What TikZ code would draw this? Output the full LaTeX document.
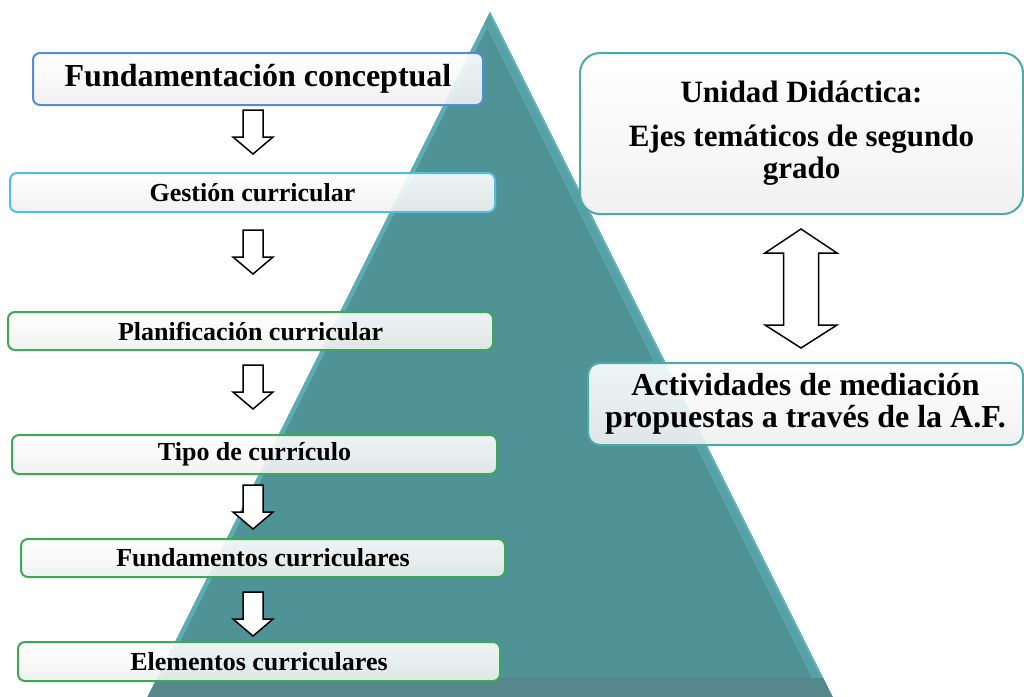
\documentclass[tikz,border=0pt]{standalone}
\usepackage{fontspec}
\setmainfont{Liberation Serif}
\usetikzlibrary{positioning,shapes,arrows}

\definecolor{pyrteal}{RGB}{79,147,150}
\definecolor{pyrlight}{RGB}{98,182,186}
\definecolor{pyrdark}{RGB}{86,136,139}
\definecolor{bluebox}{RGB}{84,141,214}
\definecolor{cyanbox}{RGB}{78,190,226}
\definecolor{greenbox}{RGB}{60,168,88}
\definecolor{tealbox}{RGB}{74,170,172}

\tikzset{
	box/.style={draw, line width=2pt, rounded corners=7pt, top color=white, bottom color=gray!12, fill opacity=0.9, text opacity=1, font=\bfseries\fontsize{26}{28}\selectfont, inner sep=0pt},
	arrline/.style={draw=black, line width=1.5pt, fill=white, line join=miter},
	downarr/.pic={\path[arrline] (-10,0) -- (10,0) -- (10,27) -- (20,27) -- (0,44) -- (-20,27) -- (-10,27) -- cycle;},
	bothArr/.pic={\path[arrline] (0,0) -- (36,24) -- (17.5,24) -- (17.5,96) -- (36,96) -- (0,119) -- (-36,96) -- (-17.5,96) -- (-17.5,24) -- (-36,24) -- cycle;}
}

\begin{document}
\begin{tikzpicture}[x=1pt,y=-1pt]

		\useasboundingbox (0,0) rectangle (1024,696);

		% Pyramid
		\begin{scope}
			\clip (0,0) rectangle (1024,696);
			\fill[pyrteal] (490,12) -- (146,700) -- (834,700) -- cycle;
			\clip (490,12) -- (146,700) -- (834,700) -- cycle;
			\draw[pyrlight!75!pyrteal, line width=9pt] (490,12) -- (146,700) -- (834,700) -- cycle;
			\draw[pyrlight!40!pyrteal, line width=20pt] (490,12) -- (834,700);
			\draw[pyrlight, line width=3pt] (490,12) -- (834,700);
			\fill[pyrdark] (140,678) rectangle (840,700);
		\end{scope}

		% Left column
		\node[box, draw=bluebox, minimum width=450, minimum height=52, font=\bfseries\fontsize{32}{34}\selectfont] (fund) at (258,79) {Fundamentación conceptual};
		\node[box, draw=cyanbox, minimum width=485, minimum height=39] (gest) at (252.5,192.5) {Gestión curricular};
		\node[box, draw=greenbox, minimum width=485, minimum height=38] (plan) at (250.5,331) {Planificación curricular};
		\node[box, draw=greenbox, minimum width=485, minimum height=39] (tipo) at (254.5,454.5) {Tipo de currículo};
		\node[box, draw=greenbox, minimum width=484, minimum height=38] (fundam) at (263,558) {Fundamentos curriculares};
		\node[box, draw=greenbox, minimum width=482, minimum height=39] (elem) at (259,661.5) {Elementos curriculares};

		% Arrows
		\pic at (253,110) {downarr};
		\pic at (253,230) {downarr};
		\pic at (253,365) {downarr};
		\pic at (253,485) {downarr};
		\pic at (253,592) {downarr};

		% Right column
		\node[box, draw=tealbox, rounded corners=20pt, minimum width=443, minimum height=161, align=center, font=\bfseries\fontsize{31}{32}\selectfont] (unidad) at (801.5,133.5) {Unidad Didáctica:\\[12pt]Ejes temáticos de segundo\\grado};
		\node[box, draw=tealbox, rounded corners=12pt, minimum width=435, minimum height=82, align=center, font=\bfseries\fontsize{32}{32}\selectfont] (activ) at (805.5,404) {Actividades de mediación\\propuestas a través de la A.F.};

		\pic at (801,229) {bothArr};

	\end{tikzpicture}
\end{document}
